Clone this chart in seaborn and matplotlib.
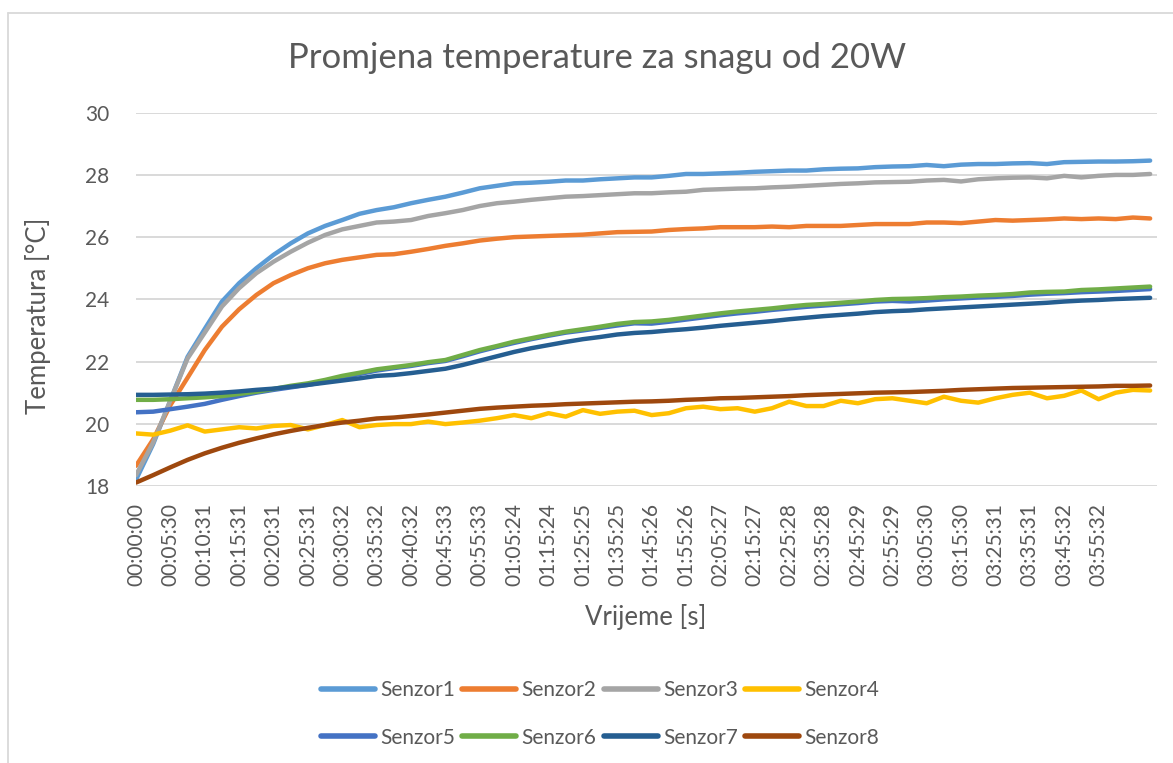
import numpy as np
import pandas as pd
import matplotlib
matplotlib.use("Agg")
import matplotlib.pyplot as plt
from matplotlib.lines import Line2D
import seaborn as sns

# Measurement rows are logged every 5 samples; a time label is shown every 10 samples
SAMPLE_STEP = 5
LABEL_STEP = 10

time_labels = [
    "00:00:00", "00:05:30", "00:10:31", "00:15:31", "00:20:31", "00:25:31",
    "00:30:32", "00:35:32", "00:40:32", "00:45:33", "00:55:33", "01:05:24",
    "01:15:24", "01:25:25", "01:35:25", "01:45:26", "01:55:26", "02:05:27",
    "02:15:27", "02:25:28", "02:35:28", "02:45:29", "02:55:29", "03:05:30",
    "03:15:30", "03:25:31", "03:35:31", "03:45:32", "03:55:32",
]

senzor1 = [18.20, 19.35, 20.75, 22.15, 23.05, 23.93, 24.52, 25.00, 25.43, 25.80, 26.12, 26.36, 26.55, 26.75, 26.87,
           26.96, 27.09, 27.20, 27.30, 27.43, 27.57, 27.65, 27.73, 27.75, 27.78, 27.82, 27.82, 27.86, 27.89, 27.92,
           27.92, 27.97, 28.03, 28.03, 28.05, 28.07, 28.10, 28.12, 28.14, 28.14, 28.18, 28.20, 28.21, 28.25, 28.27,
           28.28, 28.32, 28.28, 28.33, 28.35, 28.35, 28.37, 28.38, 28.35, 28.41, 28.42, 28.43, 28.43, 28.44, 28.46]
senzor2 = [18.65, 19.50, 20.60, 21.48, 22.37, 23.12, 23.68, 24.14, 24.52, 24.78, 25.00, 25.16, 25.27, 25.35, 25.43,
           25.45, 25.53, 25.62, 25.72, 25.80, 25.89, 25.95, 26.00, 26.02, 26.04, 26.06, 26.08, 26.12, 26.16, 26.17,
           26.18, 26.23, 26.26, 26.28, 26.32, 26.32, 26.32, 26.34, 26.32, 26.36, 26.36, 26.36, 26.39, 26.42, 26.42,
           26.42, 26.47, 26.47, 26.45, 26.50, 26.55, 26.53, 26.55, 26.57, 26.60, 26.58, 26.60, 26.58, 26.63, 26.60]
senzor3 = [18.35, 19.40, 20.75, 22.10, 22.93, 23.77, 24.36, 24.84, 25.21, 25.53, 25.82, 26.07, 26.25, 26.36, 26.47,
           26.50, 26.55, 26.68, 26.77, 26.87, 27.00, 27.09, 27.14, 27.20, 27.25, 27.30, 27.32, 27.35, 27.38, 27.41,
           27.41, 27.44, 27.46, 27.52, 27.54, 27.56, 27.57, 27.60, 27.62, 27.65, 27.68, 27.71, 27.73, 27.76, 27.77,
           27.78, 27.82, 27.84, 27.79, 27.86, 27.89, 27.91, 27.92, 27.89, 27.97, 27.92, 27.97, 28.00, 28.00, 28.03]
senzor4 = [19.69, 19.65, 19.78, 19.95, 19.75, 19.82, 19.89, 19.85, 19.93, 19.96, 19.82, 19.96, 20.12, 19.89, 19.96,
           19.99, 19.99, 20.07, 19.99, 20.04, 20.10, 20.18, 20.28, 20.18, 20.34, 20.23, 20.44, 20.32, 20.39, 20.42,
           20.28, 20.34, 20.50, 20.55, 20.47, 20.50, 20.39, 20.50, 20.71, 20.57, 20.57, 20.74, 20.66, 20.79, 20.82,
           20.74, 20.66, 20.87, 20.74, 20.68, 20.82, 20.93, 21.00, 20.82, 20.90, 21.07, 20.79, 21.00, 21.09, 21.07]
senzor5 = [20.37, 20.39, 20.47, 20.55, 20.64, 20.77, 20.89, 21.00, 21.09, 21.17, 21.25, 21.35, 21.48, 21.60, 21.71,
           21.79, 21.86, 21.95, 22.02, 22.17, 22.33, 22.47, 22.60, 22.72, 22.83, 22.93, 23.00, 23.08, 23.16, 23.23,
           23.22, 23.28, 23.35, 23.42, 23.49, 23.55, 23.60, 23.66, 23.71, 23.76, 23.80, 23.84, 23.88, 23.93, 23.95,
           23.93, 23.96, 24.00, 24.03, 24.06, 24.08, 24.11, 24.15, 24.18, 24.20, 24.23, 24.25, 24.27, 24.30, 24.33]
senzor6 = [20.77, 20.77, 20.79, 20.82, 20.85, 20.89, 20.96, 21.03, 21.12, 21.22, 21.30, 21.41, 21.54, 21.64, 21.75,
           21.82, 21.89, 21.98, 22.05, 22.21, 22.37, 22.50, 22.64, 22.75, 22.86, 22.96, 23.04, 23.12, 23.21, 23.27,
           23.29, 23.34, 23.41, 23.48, 23.55, 23.61, 23.66, 23.71, 23.77, 23.82, 23.85, 23.89, 23.93, 23.98, 24.01,
           24.02, 24.04, 24.07, 24.09, 24.12, 24.14, 24.17, 24.22, 24.24, 24.25, 24.30, 24.32, 24.35, 24.38, 24.41]
senzor7 = [20.93, 20.93, 20.94, 20.95, 20.97, 21.00, 21.04, 21.09, 21.13, 21.19, 21.25, 21.32, 21.39, 21.46, 21.54,
           21.57, 21.63, 21.70, 21.77, 21.89, 22.03, 22.17, 22.31, 22.43, 22.53, 22.63, 22.72, 22.79, 22.87, 22.92,
           22.95, 23.00, 23.04, 23.09, 23.15, 23.20, 23.25, 23.30, 23.36, 23.41, 23.46, 23.50, 23.54, 23.59, 23.62,
           23.64, 23.68, 23.71, 23.74, 23.77, 23.80, 23.83, 23.86, 23.89, 23.93, 23.96, 23.98, 24.01, 24.03, 24.05]
senzor8 = [18.11, 18.35, 18.60, 18.84, 19.05, 19.23, 19.39, 19.53, 19.66, 19.77, 19.87, 19.96, 20.04, 20.10, 20.17,
           20.20, 20.25, 20.30, 20.36, 20.42, 20.48, 20.52, 20.55, 20.58, 20.60, 20.63, 20.65, 20.67, 20.69, 20.71,
           20.72, 20.74, 20.77, 20.79, 20.82, 20.83, 20.85, 20.87, 20.89, 20.92, 20.94, 20.96, 20.98, 21.00, 21.01,
           21.02, 21.04, 21.06, 21.09, 21.11, 21.13, 21.15, 21.16, 21.17, 21.18, 21.19, 21.20, 21.22, 21.22, 21.23]

series_names = ["Senzor1", "Senzor2", "Senzor3", "Senzor4",
                "Senzor5", "Senzor6", "Senzor7", "Senzor8"]
series_values = [senzor1, senzor2, senzor3, senzor4,
                 senzor5, senzor6, senzor7, senzor8]
colors = ["#5B9BD5", "#ED7D31", "#A5A5A5", "#FFC000",
          "#4472C4", "#70AD47", "#255E91", "#9E480E"]
TOTAL_SAMPLES = 298

rows = []
for name, vals in zip(series_names, series_values):
    for i, v in enumerate(vals):
        rows.append({"sample": i * SAMPLE_STEP, "temp": v, "sensor": name})
df = pd.DataFrame(rows)

sns.set_style("white")
plt.rcParams["font.family"] = ["Lato", "DejaVu Sans"]
TXT = "#595959"
GRID = "#D9D9D9"

fig = plt.figure(figsize=(11.73, 7.63), dpi=100)
ax = fig.add_axes([136 / 1173, 1 - 486 / 763, (1157 - 136) / 1173, (486 - 112.7) / 763])

sns.lineplot(data=df, x="sample", y="temp", hue="sensor", hue_order=series_names,
             palette=colors, linewidth=3.2, ax=ax,
             solid_joinstyle="round", solid_capstyle="round")

ax.set_xlim(0, TOTAL_SAMPLES - 1)
ax.set_ylim(18, 30)
ax.set_yticks(np.arange(18, 31, 2))
ax.set_xticks(np.arange(len(time_labels)) * LABEL_STEP)
ax.set_xticklabels(time_labels, rotation=90)
ax.tick_params(axis="x", length=0, pad=12, labelsize=15, labelcolor=TXT)
ax.tick_params(axis="y", length=0, pad=19, labelsize=15, labelcolor=TXT)
ax.grid(axis="y", color=GRID, linewidth=1.4)
ax.set_axisbelow(True)
for s in ax.spines.values():
    s.set_visible(False)
ax.set_xlabel("")
ax.set_ylabel("")

fig.text(597 / 1173, 1 - 58 / 763, "Promjena temperature za snagu od 20W",
         ha="center", va="center", fontsize=25, color=TXT)
fig.text(38 / 1173, 1 - 316 / 763, "Temperatura [°C]", rotation=90,
         ha="center", va="center", fontsize=18.5, color=TXT)
fig.text(646 / 1173, 1 - 617 / 763, "Vrijeme [s]",
         ha="center", va="center", fontsize=18.5, color=TXT)

handles, labels = ax.get_legend_handles_labels()
ax.get_legend().remove()
order = [0, 4, 1, 5, 2, 6, 3, 7]
leg = fig.legend([handles[i] for i in order], [labels[i] for i in order],
                 loc="center", bbox_to_anchor=(600 / 1173, 1 - 714 / 763),
                 ncol=4, frameon=False, fontsize=15, handlelength=2.6,
                 handletextpad=0.25, columnspacing=0.35, labelspacing=1.3)
for t in leg.get_texts():
    t.set_color(TXT)
for h in leg.legend_handles:
    h.set_linewidth(4)
    h.set_solid_capstyle("round")

# chart area frame
fig.add_artist(Line2D([8 / 1173, 1.0], [1 - 13 / 763, 1 - 13 / 763],
                      transform=fig.transFigure, color=GRID, linewidth=1.3))
fig.add_artist(Line2D([8 / 1173, 8 / 1173], [0, 1 - 13 / 763],
                      transform=fig.transFigure, color=GRID, linewidth=1.3))

fig.savefig("out.png", dpi=100, facecolor="white")
